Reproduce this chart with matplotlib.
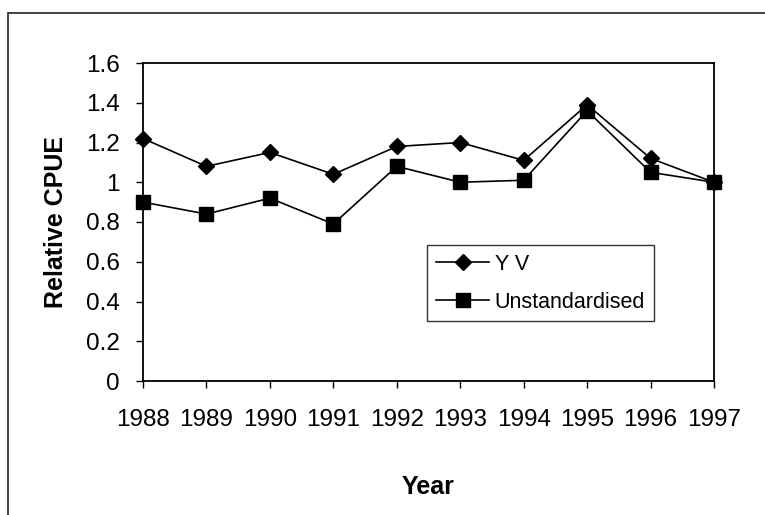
import matplotlib
matplotlib.use("Agg")
import matplotlib.pyplot as plt
from matplotlib.patches import Rectangle

plt.rcParams["font.family"] = ["Liberation Sans", "DejaVu Sans"]

# Relative CPUE by year
years = [1988, 1989, 1990, 1991, 1992, 1993, 1994, 1995, 1996, 1997]
yv = [1.22, 1.08, 1.15, 1.04, 1.18, 1.20, 1.11, 1.39, 1.12, 1.00]
unstandardised = [0.90, 0.84, 0.92, 0.79, 1.08, 1.00, 1.01, 1.36, 1.05, 1.00]
y_ticks = [0, 0.2, 0.4, 0.6, 0.8, 1.0, 1.2, 1.4, 1.6]
y_tick_labels = ["0", "0.2", "0.4", "0.6", "0.8", "1", "1.2", "1.4", "1.6"]

fig = plt.figure(figsize=(7.65, 5.15), dpi=100)
fig.patch.set_facecolor("white")

# chart-area border, running off the right and bottom edges
fig.add_artist(Rectangle((8 / 765, -0.05), 1.2, 1 - 13 / 515 + 0.05,
                         transform=fig.transFigure, fill=False,
                         edgecolor="#222222", linewidth=1.2))

ax = fig.add_axes([143 / 765, 1 - 381 / 515, 571 / 765, 318 / 515])

ax.plot(years, yv, color="black", linewidth=1.2, marker="D",
        markersize=8.5, label="Y V", clip_on=False, zorder=3)
ax.plot(years, unstandardised, color="black", linewidth=1.2, marker="s",
        markersize=10, label="Unstandardised", clip_on=False, zorder=3)

ax.set_xlim(1988, 1997)
ax.set_ylim(0, 1.6)
ax.set_xticks(years)
ax.set_xticklabels([str(y) for y in years])
ax.set_yticks(y_ticks)
ax.set_yticklabels(y_tick_labels)

ax.tick_params(axis="both", direction="out", length=5, width=1,
               labelsize=17.5, colors="black")
ax.tick_params(axis="x", pad=15)
ax.tick_params(axis="y", pad=12)
for side in ax.spines.values():
    side.set_linewidth(1.3)
    side.set_color("black")

ax.set_ylabel("Relative CPUE", fontsize=18, fontweight="bold")
ax.yaxis.set_label_coords((56 - 143) / 571, 0.5)
ax.yaxis.label.set_va("center")
ax.set_xlabel("Year", fontsize=18, fontweight="bold")
ax.xaxis.set_label_coords(0.5, (381 - 487) / 318)
ax.xaxis.label.set_va("center")

leg = ax.legend(loc="upper left", bbox_to_anchor=((427 - 143) / 571, (381 - 245) / 318),
                frameon=True, fancybox=False, shadow=False, fontsize=15.5,
                handlelength=2.5, handletextpad=0.25, borderpad=0.4,
                labelspacing=0.8, borderaxespad=0)
leg.get_frame().set_edgecolor("black")
leg.get_frame().set_linewidth(1.0)

fig.savefig("out.png", dpi=100, facecolor="white")
